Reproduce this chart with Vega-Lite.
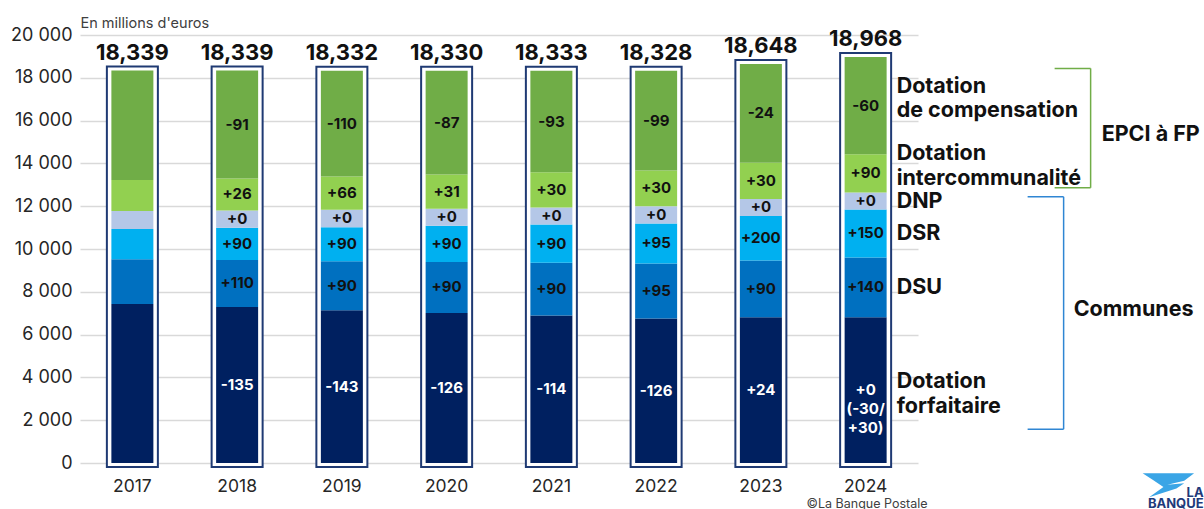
{
  "$schema": "https://vega.github.io/schema/vega-lite/v6.json",
  "width": 838,
  "height": 428,
  "autosize": {"type": "none"},
  "padding": {"left": 80, "top": 35, "right": 286, "bottom": 46},
  "background": "white",
  "config": {"view": {"stroke": null}, "font": "Inter"},
  "datasets": {
    "seg": [
      {"year": "2017", "cat": "Dotation\nforfaitaire", "o": 1, "value": 7430, "lab": ""},
      {"year": "2017", "cat": "DSU", "o": 2, "value": 2091, "lab": ""},
      {"year": "2017", "cat": "DSR", "o": 3, "value": 1410, "lab": ""},
      {"year": "2017", "cat": "DNP", "o": 4, "value": 840, "lab": ""},
      {"year": "2017", "cat": "Dotation\nintercommunalité", "o": 5, "value": 1450, "lab": ""},
      {"year": "2017", "cat": "Dotation\nde compensation", "o": 6, "value": 5118, "lab": ""},
      {"year": "2018", "cat": "Dotation\nforfaitaire", "o": 1, "value": 7290, "lab": "-135"},
      {"year": "2018", "cat": "DSU", "o": 2, "value": 2201, "lab": "+110"},
      {"year": "2018", "cat": "DSR", "o": 3, "value": 1500, "lab": "+90"},
      {"year": "2018", "cat": "DNP", "o": 4, "value": 810, "lab": "+0"},
      {"year": "2018", "cat": "Dotation\nintercommunalité", "o": 5, "value": 1495, "lab": "+26"},
      {"year": "2018", "cat": "Dotation\nde compensation", "o": 6, "value": 5043, "lab": "-91"},
      {"year": "2019", "cat": "Dotation\nforfaitaire", "o": 1, "value": 7140, "lab": "-143"},
      {"year": "2019", "cat": "DSU", "o": 2, "value": 2291, "lab": "+90"},
      {"year": "2019", "cat": "DSR", "o": 3, "value": 1590, "lab": "+90"},
      {"year": "2019", "cat": "DNP", "o": 4, "value": 810, "lab": "+0"},
      {"year": "2019", "cat": "Dotation\nintercommunalité", "o": 5, "value": 1560, "lab": "+66"},
      {"year": "2019", "cat": "Dotation\nde compensation", "o": 6, "value": 4941, "lab": "-110"},
      {"year": "2020", "cat": "Dotation\nforfaitaire", "o": 1, "value": 7013, "lab": "-126"},
      {"year": "2020", "cat": "DSU", "o": 2, "value": 2381, "lab": "+90"},
      {"year": "2020", "cat": "DSR", "o": 3, "value": 1690, "lab": "+90"},
      {"year": "2020", "cat": "DNP", "o": 4, "value": 800, "lab": "+0"},
      {"year": "2020", "cat": "Dotation\nintercommunalité", "o": 5, "value": 1595, "lab": "+31"},
      {"year": "2020", "cat": "Dotation\nde compensation", "o": 6, "value": 4851, "lab": "-87"},
      {"year": "2021", "cat": "Dotation\nforfaitaire", "o": 1, "value": 6890, "lab": "-114"},
      {"year": "2021", "cat": "DSU", "o": 2, "value": 2471, "lab": "+90"},
      {"year": "2021", "cat": "DSR", "o": 3, "value": 1780, "lab": "+90"},
      {"year": "2021", "cat": "DNP", "o": 4, "value": 800, "lab": "+0"},
      {"year": "2021", "cat": "Dotation\nintercommunalité", "o": 5, "value": 1640, "lab": "+30"},
      {"year": "2021", "cat": "Dotation\nde compensation", "o": 6, "value": 4752, "lab": "-93"},
      {"year": "2022", "cat": "Dotation\nforfaitaire", "o": 1, "value": 6755, "lab": "-126"},
      {"year": "2022", "cat": "DSU", "o": 2, "value": 2566, "lab": "+95"},
      {"year": "2022", "cat": "DSR", "o": 3, "value": 1875, "lab": "+95"},
      {"year": "2022", "cat": "DNP", "o": 4, "value": 800, "lab": "+0"},
      {"year": "2022", "cat": "Dotation\nintercommunalité", "o": 5, "value": 1675, "lab": "+30"},
      {"year": "2022", "cat": "Dotation\nde compensation", "o": 6, "value": 4657, "lab": "-99"},
      {"year": "2023", "cat": "Dotation\nforfaitaire", "o": 1, "value": 6810, "lab": "+24"},
      {"year": "2023", "cat": "DSU", "o": 2, "value": 2656, "lab": "+90"},
      {"year": "2023", "cat": "DSR", "o": 3, "value": 2075, "lab": "+200"},
      {"year": "2023", "cat": "DNP", "o": 4, "value": 800, "lab": "+0"},
      {"year": "2023", "cat": "Dotation\nintercommunalité", "o": 5, "value": 1690, "lab": "+30"},
      {"year": "2023", "cat": "Dotation\nde compensation", "o": 6, "value": 4617, "lab": "-24"},
      {"year": "2024", "cat": "Dotation\nforfaitaire", "o": 1, "value": 6810, "lab": "+0\n(-30/\n+30)"},
      {"year": "2024", "cat": "DSU", "o": 2, "value": 2796, "lab": "+140"},
      {"year": "2024", "cat": "DSR", "o": 3, "value": 2240, "lab": "+150"},
      {"year": "2024", "cat": "DNP", "o": 4, "value": 800, "lab": "+0"},
      {"year": "2024", "cat": "Dotation\nintercommunalité", "o": 5, "value": 1780, "lab": "+90"},
      {"year": "2024", "cat": "Dotation\nde compensation", "o": 6, "value": 4542, "lab": "-60"}
    ],
    "tot": [
      {"year": "2017", "total": 18339, "lab": "18,339"},
      {"year": "2018", "total": 18339, "lab": "18,339"},
      {"year": "2019", "total": 18332, "lab": "18,332"},
      {"year": "2020", "total": 18330, "lab": "18,330"},
      {"year": "2021", "total": 18333, "lab": "18,333"},
      {"year": "2022", "total": 18328, "lab": "18,328"},
      {"year": "2023", "total": 18648, "lab": "18,648"},
      {"year": "2024", "total": 18968, "lab": "18,968"}
    ],
    "one": [{}]
  },
  "encoding": {
    "x": {
      "field": "year", "type": "nominal", "sort": null,
      "scale": {"domain": ["2017", "2018", "2019", "2020", "2021", "2022", "2023", "2024"], "paddingInner": 0, "paddingOuter": 0},
      "axis": {
        "title": "©La Banque Postale", "labelAngle": 0, "labelFont": "Inter", "labelFontSize": 17.5,
        "labelColor": "#262626", "labelPadding": 14, "ticks": false, "domain": false,
        "titleFont": "Inter", "titleFontSize": 12.5, "titleFontWeight": "normal", "titleColor": "#404040",
        "titleX": 847, "titleY": 40, "titleAlign": "right", "titleBaseline": "middle", "titleAnchor": null
      }
    }
  },
  "layer": [
    {
      "data": {"name": "tot"},
      "mark": {"type": "bar", "size": 51, "fill": "white", "stroke": "#1F3A73", "strokeWidth": 2, "yOffset": -4, "y2Offset": 4},
      "encoding": {
        "y": {
          "field": "total", "type": "quantitative",
          "scale": {"domain": [0, 20000], "nice": false, "zero": true},
          "axis": {
            "title": "En millions d'euros", "titleAngle": 0, "titleAlign": "left", "titleX": 0, "titleY": -12,
            "titleBaseline": "middle", "titleFont": "Inter", "titleFontSize": 14.5, "titleFontWeight": "normal", "titleColor": "#404040",
            "values": [0, 2000, 4000, 6000, 8000, 10000, 12000, 14000, 16000, 18000, 20000],
            "labelExpr": "replace(format(datum.value, ','), ',', ' ')",
            "labelFont": "Inter", "labelFontSize": 18, "labelColor": "#262626", "labelPadding": 8,
            "ticks": false, "domain": false, "gridColor": "#d9d9d9", "gridWidth": 1.5
          }
        },
        "y2": {"datum": 0}
      }
    },
    {
      "data": {"name": "seg"},
      "transform": [
        {"stack": "value", "groupby": ["year"], "sort": [{"field": "o", "order": "ascending"}], "as": ["v0", "v1"]},
        {"calculate": "(datum.v0 + datum.v1) / 2", "as": "mid"}
      ],
      "layer": [
        {
          "mark": {"type": "bar", "size": 42},
          "encoding": {
            "y": {"field": "v1", "type": "quantitative"},
            "y2": {"field": "v0"},
            "color": {
              "field": "o", "type": "ordinal", "legend": null,
              "scale": {"domain": [1, 2, 3, 4, 5, 6], "range": ["#002060", "#0070C0", "#00B0F0", "#B4C7E7", "#92D050", "#70AD47"]}
            }
          }
        },
        {
          "mark": {"type": "text", "font": "Inter", "fontWeight": "bold", "fontSize": 15, "baseline": "middle", "lineBreak": "\n", "lineHeight": 19},
          "encoding": {
            "y": {"field": "mid", "type": "quantitative"},
            "text": {"field": "lab"},
            "color": {"condition": {"test": "datum.o == 1", "value": "white"}, "value": "#111111"}
          }
        },
        {
          "transform": [{"filter": "datum.year == '2024' && datum.o >= 2 && datum.o <= 4"}],
          "mark": {"type": "text", "font": "Inter", "fontWeight": "bold", "fontSize": 21.5, "align": "left", "baseline": "middle", "dx": 31, "dy": 1, "lineBreak": "\n", "lineHeight": 24.5, "color": "#111111"},
          "encoding": {
            "y": {"field": "mid", "type": "quantitative"},
            "text": {"field": "cat"}
          }
        },
        {
          "transform": [{"filter": "datum.year == '2024' && datum.o == 1"}],
          "mark": {"type": "text", "font": "Inter", "fontWeight": "bold", "fontSize": 21.5, "align": "left", "baseline": "middle", "dx": 31, "dy": -8, "lineBreak": "\n", "lineHeight": 24.5, "color": "#111111"},
          "encoding": {
            "y": {"field": "mid", "type": "quantitative"},
            "text": {"field": "cat"}
          }
        },
        {
          "transform": [{"filter": "datum.year == '2024' && datum.o >= 5"}],
          "mark": {"type": "text", "font": "Inter", "fontWeight": "bold", "fontSize": 21.5, "align": "left", "baseline": "middle", "dx": 31, "dy": -19, "lineBreak": "\n", "lineHeight": 24.5, "color": "#111111"},
          "encoding": {
            "y": {"field": "mid", "type": "quantitative"},
            "text": {"field": "cat"}
          }
        }
      ]
    },
    {
      "data": {"name": "tot"},
      "mark": {"type": "text", "font": "Inter", "fontWeight": "bold", "fontSize": 22, "baseline": "alphabetic", "dy": -11, "color": "#111111"},
      "encoding": {
        "y": {"field": "total", "type": "quantitative"},
        "text": {"field": "lab"}
      }
    },
    {
      "data": {"name": "one"},
      "layer": [
        {
          "mark": {"type": "rule", "color": "#70AD47", "strokeWidth": 1.5, "xOffset": 225},
          "encoding": {"x": {"datum": "2024"}, "y": {"datum": 18440}, "y2": {"datum": 12860}}
        },
        {
          "mark": {"type": "rule", "color": "#70AD47", "strokeWidth": 1.5, "xOffset": 189, "x2Offset": 225},
          "encoding": {"x": {"datum": "2024"}, "x2": {"datum": "2024"}, "y": {"datum": 18440}}
        },
        {
          "mark": {"type": "rule", "color": "#70AD47", "strokeWidth": 1.5, "xOffset": 189, "x2Offset": 225},
          "encoding": {"x": {"datum": "2024"}, "x2": {"datum": "2024"}, "y": {"datum": 12860}}
        },
        {
          "mark": {"type": "rule", "color": "#2F86D3", "strokeWidth": 1.5, "xOffset": 198},
          "encoding": {"x": {"datum": "2024"}, "y": {"datum": 12440}, "y2": {"datum": 1580}}
        },
        {
          "mark": {"type": "rule", "color": "#2F86D3", "strokeWidth": 1.5, "xOffset": 162, "x2Offset": 198},
          "encoding": {"x": {"datum": "2024"}, "x2": {"datum": "2024"}, "y": {"datum": 12440}}
        },
        {
          "mark": {"type": "rule", "color": "#2F86D3", "strokeWidth": 1.5, "xOffset": 162, "x2Offset": 198},
          "encoding": {"x": {"datum": "2024"}, "x2": {"datum": "2024"}, "y": {"datum": 1580}}
        },
        {
          "mark": {"type": "text", "font": "Inter", "fontWeight": "bold", "fontSize": 21.5, "align": "left", "baseline": "middle", "dx": 236, "color": "#111111"},
          "encoding": {"x": {"datum": "2024"}, "y": {"datum": 15330}, "text": {"value": "EPCI à FP"}}
        },
        {
          "mark": {"type": "text", "font": "Inter", "fontWeight": "bold", "fontSize": 21.5, "align": "left", "baseline": "middle", "dx": 208, "color": "#111111"},
          "encoding": {"x": {"datum": "2024"}, "y": {"datum": 7140}, "text": {"value": "Communes"}}
        },
        {
          "mark": {"type": "point", "filled": true, "color": "#3AA5E6", "opacity": 1, "size": 2704, "xOffset": 303,
            "shape": "M -1 -0.46 L 0.98 -0.46 L 0.6 -0.18 L -0.05 -0.02 L 0.6 -0.08 L 0.3 0.12 L -0.75 0.46 L -0.2 0.06 L -0.6 -0.2 Z"},
          "encoding": {"x": {"datum": "2024"}, "y": {"datum": -1043}}
        },
        {
          "mark": {"type": "text", "font": "Inter", "fontWeight": "bold", "fontSize": 13, "align": "right", "baseline": "middle", "dx": 338, "color": "#1F3A7A"},
          "encoding": {"x": {"datum": "2024"}, "y": {"datum": -1417}, "text": {"value": "LA"}}
        },
        {
          "mark": {"type": "text", "font": "Inter", "fontWeight": "bold", "fontSize": 13, "align": "right", "baseline": "middle", "dx": 338, "color": "#1F3A7A"},
          "encoding": {"x": {"datum": "2024"}, "y": {"datum": -1931}, "text": {"value": "BANQUE"}}
        }
      ]
    }
  ]
}
